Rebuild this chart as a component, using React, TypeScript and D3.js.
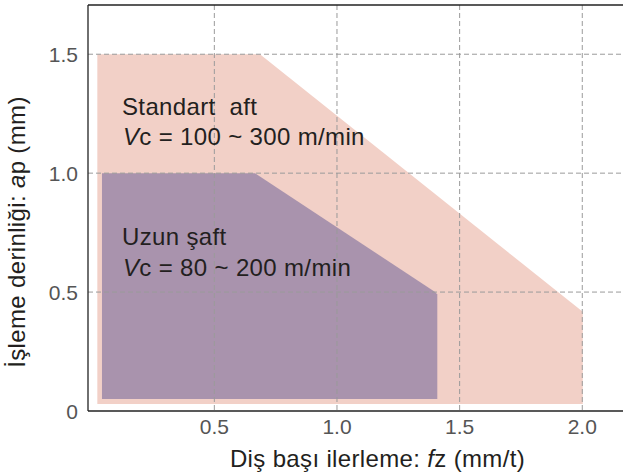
import React from "react";
import * as d3 from "d3";

const W = 623;
const H = 476;

// Region polygons: [fz (mm/t), ap (mm)]
const standardRegion: [number, number][] = [
  [0.023, 0.029],
  [0.023, 1.5],
  [0.686, 1.5],
  [2.002, 0.417],
  [2.002, 0.029],
];
const longRegion: [number, number][] = [
  [0.042, 0.05],
  [0.042, 1.0],
  [0.666, 1.0],
  [1.4, 0.5],
  [1.409, 0.49],
  [1.409, 0.05],
];

const xTicks = [0.5, 1.0, 1.5, 2.0];
const xTickLabels = ["0.5", "1.0", "1.5", "2.0"];
const yTicks = [0, 0.5, 1.0, 1.5];
const yTickLabels = ["0", "0.5", "1.0", "1.5"];

const FONT = "'Liberation Sans', Arial, Helvetica, sans-serif";

export default function App() {
  const left = 88;
  const right = W;
  const top = 5;
  const bottom = 411;

  const x = d3.scaleLinear().domain([-0.015, 2.166]).range([left, right]);
  const y = d3.scaleLinear().domain([0, 1.707]).range([bottom, top]);

  const line = d3
    .line<[number, number]>()
    .x((d) => x(d[0]))
    .y((d) => y(d[1]))
    .curve(d3.curveLinearClosed);

  const gridColor = "#9a9a9a";
  const textColor = "#231f20";
  const fs = 24;
  const ls = 0.35;

  return (
    <svg
      width={W}
      height={H}
      style={{ position: "absolute", left: 0, top: 0, background: "#fff" }}
      fontFamily={FONT}
    >
      <rect x={0} y={0} width={W} height={H} fill="#fff" />
      <path d={line(standardRegion) || ""} fill="#f2d0c7" />
      <path d={line(longRegion) || ""} fill="#a993ad" />

      {/* grid */}
      {yTicks
        .filter((t) => t > 0)
        .map((t) => (
          <line
            key={"gy" + t}
            x1={left}
            x2={right}
            y1={y(t)}
            y2={y(t)}
            stroke={gridColor}
            strokeWidth={1}
            strokeDasharray="5,3"
          />
        ))}
      {xTicks.map((t) => (
        <line
          key={"gx" + t}
          x1={x(t)}
          x2={x(t)}
          y1={top}
          y2={bottom}
          stroke={gridColor}
          strokeWidth={1}
          strokeDasharray="5,3"
        />
      ))}

      {/* frame */}
      <line x1={left} x2={right} y1={top} y2={top} stroke="#222" strokeWidth={1.3} />
      <line x1={left} x2={left} y1={top} y2={bottom} stroke="#222" strokeWidth={1.3} />
      <line x1={left} x2={right} y1={bottom} y2={bottom} stroke="#222" strokeWidth={1.3} />

      {/* tick labels */}
      {yTicks.map((t, i) => (
        <text
          key={"ty" + t}
          x={78}
          y={y(t)}
          dy="0.36em"
          textAnchor="end"
          fontSize={21}
          fill="#555"
        >
          {yTickLabels[i]}
        </text>
      ))}
      {xTicks.map((t, i) => (
        <text
          key={"tx" + t}
          x={x(t)}
          y={434}
          textAnchor="middle"
          fontSize={21}
          fill="#555"
        >
          {xTickLabels[i]}
        </text>
      ))}

      {/* axis titles */}
      <text
        x={(233 + 522) / 2}
        y={467}
        textAnchor="middle"
        fontSize={fs}
        letterSpacing={ls}
        fill={textColor}
      >
        Diş başı ilerleme: <tspan fontStyle="italic">f</tspan>z (mm/t)
      </text>
      <text
        transform={`translate(25, ${232}) rotate(-90)`}
        textAnchor="middle"
        fontSize={fs}
        letterSpacing={ls}
        fill={textColor}
      >
        İşleme derinliği: <tspan fontStyle="italic">a</tspan>p (mm)
      </text>

      {/* annotations */}
      <text x={122} y={115} fontSize={fs} letterSpacing={ls} fill={textColor} style={{ whiteSpace: "pre" }}>
        {"Standart  aft"}
      </text>
      <text x={123} y={145} fontSize={fs} letterSpacing={ls} fill={textColor}>
        <tspan fontStyle="italic">V</tspan>c = 100 ~ 300 m/min
      </text>
      <text x={122} y={245} fontSize={fs} letterSpacing={ls} fill={textColor}>
        Uzun şaft
      </text>
      <text x={123} y={276} fontSize={fs} letterSpacing={ls} fill={textColor}>
        <tspan fontStyle="italic">V</tspan>c = 80 ~ 200 m/min
      </text>
    </svg>
  );
}
